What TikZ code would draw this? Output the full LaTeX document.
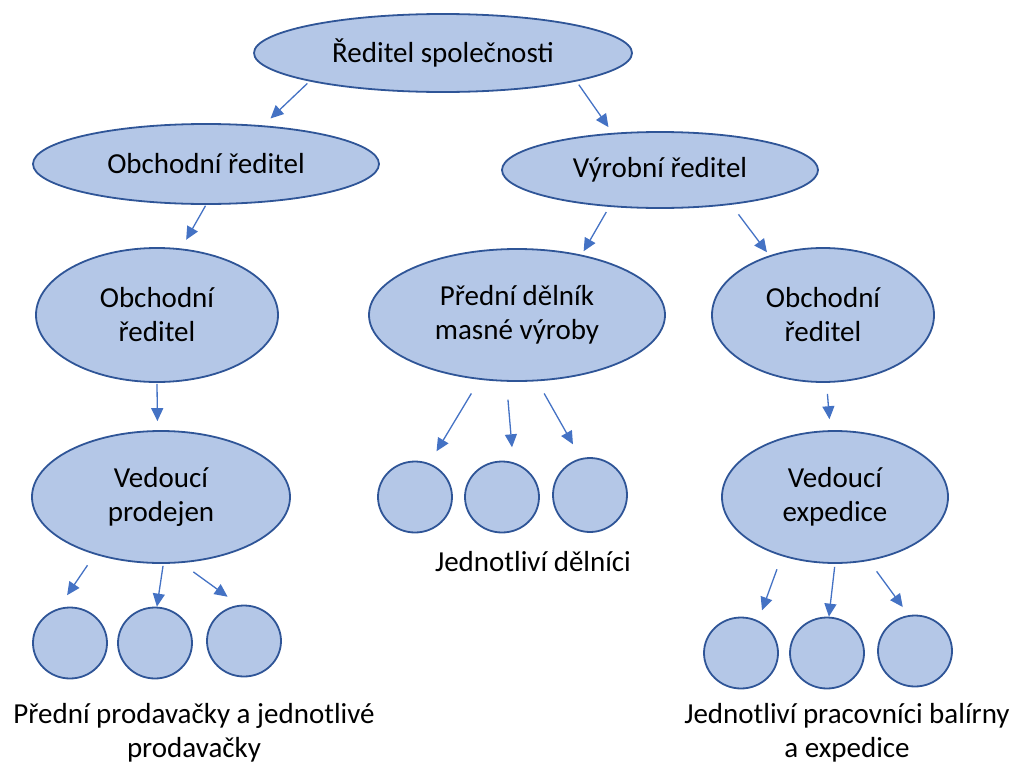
\documentclass[tikz,border=0pt]{standalone}
\usepackage{fontspec}
\setmainfont{Carlito}
\usepackage{tikz}
\usetikzlibrary{arrows.meta,shapes.geometric}
\usepackage{xcolor}
\definecolor{vypln}{HTML}{B4C7E7}
\definecolor{okraj}{HTML}{2F5597}
\definecolor{sipky}{HTML}{4472C4}

\begin{document}
\begin{tikzpicture}[x=1pt,y=-1pt,>={Triangle[length=13pt,width=12pt]}]
\tikzset{
    elip/.style={%
        ellipse, draw=okraj, line width=1.8pt,
        fill=vypln, inner sep=0pt,
        align=center, font=\fontsize{29}{34}\selectfont
        },
    kruh/.style={%
        ellipse, draw=okraj, line width=1.8pt,
        fill=vypln, inner sep=0pt,
        minimum width=74pt, minimum height=71pt
        },
    popis/.style={%
        align=center, inner sep=0pt,
        font=\fontsize{29}{34}\selectfont
        },
    sipka/.style={%
        ->, draw=sipky, line width=1.3pt
        },
}
\useasboundingbox (0,0) rectangle (1015,763);
%%%ELLIPSES
\node[elip, minimum width=378pt, minimum height=78pt] (ceo) at (443,53) {Ředitel společnosti};
\node[elip, minimum width=346pt, minimum height=80pt] (obch) at (206,164) {Obchodní ředitel};
\node[elip, minimum width=316pt, minimum height=76pt] (vyr) at (660,170) {Výrobní ředitel};
\node[elip, minimum width=242pt, minimum height=134pt] (obchL) at (157,315) {Obchodní\\ředitel};
\node[elip, minimum width=296pt, minimum height=132pt] (pred) at (517,315) {Přední dělník\\masné výroby};
\node[elip, minimum width=222pt, minimum height=134pt] (obchR) at (823,315) {Obchodní\\ředitel};
\node[elip, minimum width=258pt, minimum height=132pt] (vedP) at (161,497) {Vedoucí\\prodejen};
\node[elip, minimum width=226pt, minimum height=132pt] (vedE) at (835,497) {Vedoucí\\expedice};
%%%CIRCLES
\node[kruh] (p1) at (70,643) {};
\node[kruh] (p2) at (155,643) {};
\node[kruh] (p3) at (244,641) {};
\node[kruh] (d1) at (415,497) {};
\node[kruh] (d2) at (502,497) {};
\node[kruh, minimum height=74pt] (d3) at (590,495) {};
\node[kruh] (e1) at (741,653) {};
\node[kruh] (e2) at (827,653) {};
\node[kruh] (e3) at (915,651) {};
%%%LABELS
\node[popis] (popD) at (533,562) {Jednotliví dělníci};
\node[popis] (popP) at (194,733) {Přední prodavačky a jednotlivé\\prodavačky};
\node[popis] (popE) at (847,733) {Jednotliví pracovníci balírny\\a expedice};
%%%ARROWS
\draw[sipka, shorten <=3pt, shorten >=10pt] (ceo.192) -- (obch.34);
\draw[sipka, shorten <=4pt, shorten >=7pt] (ceo.348) -- (vyr.142);
\draw[sipka, shorten <=1pt, shorten >=10pt] (obch.270) -- (obchL.70);
\draw[sipka, shorten <=1pt, shorten >=9pt] (obchL.270) -- (vedP.93);
\draw[sipka, shorten <=6pt, shorten >=4pt] (vyr.216) -- (pred.43);
\draw[sipka, shorten <=12pt, shorten >=4pt] (vyr.334) -- (obchR.132);
\draw[sipka, shorten <=11pt, shorten >=11pt] (obchR.273) -- (vedE.94);
%
\draw[sipka, shorten <=13pt, shorten >=16pt] (vedP.221) -- (p1.109);
\draw[sipka, shorten <=2pt] (vedP.272) -- (p2.87);
\draw[sipka, shorten <=15pt, shorten >=14pt] (vedP.287) -- (p3.98);
%
\draw[sipka, shorten <=16pt, shorten >=14pt] (pred.240) -- (d1.67);
\draw[sipka, shorten <=18pt, shorten >=15pt] (pred.261) -- (d2.72);
\draw[sipka, shorten <=14pt, shorten >=16pt] (pred.287) -- (d3.104);
%
\draw[sipka, shorten <=14pt, shorten >=11pt] (vedE.228) -- (e1.62);
\draw[sipka, shorten <=3pt] (vedE.270) -- (e2.87);
\draw[sipka, shorten <=13pt, shorten >=10pt] (vedE.298) -- (e3.100);
\end{tikzpicture}
\end{document}
